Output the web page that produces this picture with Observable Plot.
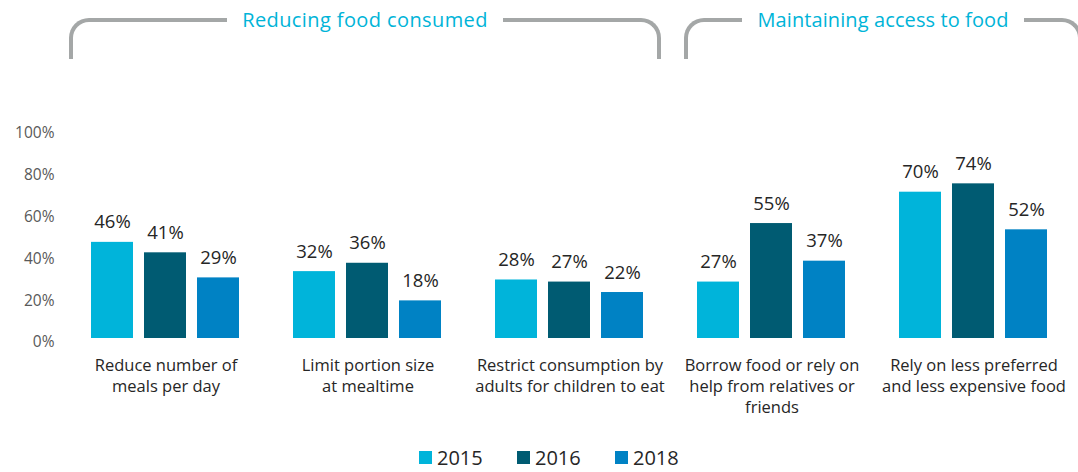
<!DOCTYPE html>
<html>
<head>
<meta charset="utf-8">
<script src="https://cdn.jsdelivr.net/npm/d3@7"></script>
<script src="https://cdn.jsdelivr.net/npm/@observablehq/plot@0.6"></script>
<style>
  html, body { margin: 0; padding: 0; background: #fff; }
  body { width: 1078px; height: 472px; overflow: hidden; font-family: "Open Sans", sans-serif; }
  #header { position: relative; height: 60px; }
  .bracket { position: absolute; top: 18px; height: 41px; box-sizing: border-box;
    border: 4px solid #a4a7a7; border-bottom: none; border-radius: 20px 20px 0 0; }
  .title { position: absolute; top: 7px; height: 26px; text-align: center; }
  .title span { background: #fff; padding: 0 15px; font-size: 20px; line-height: 26px; color: #00b4d8; }
  #legend { height: 42px; padding-top: 12px; box-sizing: border-box; display: flex; padding-left: 419px; }
  .item { width: 98px; display: flex; align-items: center; height: 30px; }
  .sw { width: 13px; height: 13px; margin-right: 5px; }
  .lt { font-size: 20px; color: #262626; }
</style>
</head>
<body>
<div id="header"></div>
<div id="chart"></div>
<div id="legend"></div>
<script>
const categories = [
  "Reduce number of\nmeals per day",
  "Limit portion size\nat mealtime",
  "Restrict consumption by\nadults for children to eat",
  "Borrow food or rely on\nhelp from relatives or\nfriends",
  "Rely on less preferred\nand less expensive food"
];
const years = ["2015", "2016", "2018"];
const values2015 = [46, 32, 28, 27, 70];
const values2016 = [41, 36, 27, 55, 74];
const values2018 = [29, 18, 22, 37, 52];
const colors = ["#00b4da", "#005b72", "#0082c4"];
const yTicks = [0, 20, 40, 60, 80, 100];
const sections = ["Reducing food consumed", "Maintaining access to food"];

const seriesByYear = [values2015, values2016, values2018];
const rows = [];
categories.forEach((c, i) => {
  years.forEach((y, j) => rows.push({category: c, year: y, value: seriesByYear[j][i]}));
});

// Section headers (brackets)
const header = document.getElementById("header");
const sectionBoxes = [{left: 69, width: 592, spacing: "0.4px"}, {left: 684, width: 398, spacing: "0.1px"}];
sections.forEach((s, i) => {
  const b = document.createElement("div");
  b.className = "bracket";
  b.style.left = sectionBoxes[i].left + "px";
  b.style.width = sectionBoxes[i].width + "px";
  header.appendChild(b);
  const t = document.createElement("div");
  t.className = "title";
  t.style.left = sectionBoxes[i].left + "px";
  t.style.width = sectionBoxes[i].width + "px";
  const sp = document.createElement("span");
  sp.textContent = s;
  sp.style.letterSpacing = sectionBoxes[i].spacing;
  t.appendChild(sp);
  header.appendChild(t);
});

const chart = Plot.plot({
  width: 1078,
  height: 370,
  marginTop: 69,
  marginBottom: 92,
  marginLeft: 91,
  marginRight: 30,
  style: {fontFamily: "'Open Sans', sans-serif", background: "#fff"},
  fx: {domain: categories, paddingInner: 0.2624, paddingOuter: 0, label: null},
  x: {domain: years, paddingInner: 0.2075, paddingOuter: 0, axis: null},
  y: {domain: [0, 100], axis: null},
  color: {domain: years, range: colors},
  marks: [
    Plot.barY(rows, {fx: "category", x: "year", y: "value", fill: "year"}),
    Plot.text(rows, {fx: "category", x: "year", y: "value", text: d => d.value + "%",
      lineAnchor: "bottom", dy: -14, fontSize: 18.5, fill: "#262626"}),
    Plot.axisY({ticks: yTicks, tickFormat: d => d + "%", tickSize: 0, tickPadding: 37,
      dy: 4, fontSize: 15.5, color: "#595959", label: null}),
    Plot.axisFx({anchor: "bottom", tickSize: 0, tickPadding: 18, fontSize: 16.5,
      lineHeight: 1.27, color: "#262626", label: null})
  ]
});
document.getElementById("chart").appendChild(chart);

const legend = document.getElementById("legend");
years.forEach((y, i) => {
  const it = document.createElement("div");
  it.className = "item";
  const sw = document.createElement("div");
  sw.className = "sw";
  sw.style.background = colors[i];
  const lt = document.createElement("span");
  lt.className = "lt";
  lt.textContent = y;
  it.appendChild(sw);
  it.appendChild(lt);
  legend.appendChild(it);
});
</script>
</body>
</html>
